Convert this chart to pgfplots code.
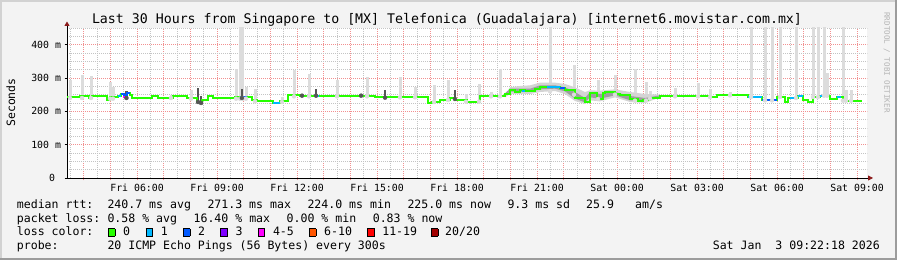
\documentclass[border=0pt]{standalone}
\usepackage{pgfplots}
\pgfplotsset{compat=1.18}
\usepackage{pgfplotstable}
\usetikzlibrary{arrows.meta}
\usepackage{fontspec}
\setmainfont{DejaVu Sans Mono}

\definecolor{bg}{HTML}{F3F3F3}
\definecolor{bordhi}{HTML}{D2D2D2}
\definecolor{bordlo}{HTML}{9C9C9C}
\definecolor{l0}{HTML}{26FF00}
\definecolor{l1}{HTML}{00B8FF}
\definecolor{l2}{HTML}{0059FF}
\definecolor{l3}{HTML}{7E00FF}
\definecolor{l4}{HTML}{FF00FF}
\definecolor{l6}{HTML}{FF5500}
\definecolor{l11}{HTML}{FF0000}
\definecolor{l20}{HTML}{A10000}
\definecolor{smokeL}{HTML}{DCDCDC}
\definecolor{smokeM}{HTML}{D4D4D4}
\definecolor{smokeK}{HTML}{9E9E9E}
\definecolor{smokeD}{HTML}{555555}
\definecolor{gridmaj}{HTML}{F29090}
\definecolor{gridmin}{HTML}{C4C4C4}
\definecolor{arrowred}{HTML}{8B1A1A}
\definecolor{wm}{HTML}{B4B4B4}

\newcommand\lf{\fontsize{11.6}{14}\selectfont}
\newcommand\swatch[1]{{\fboxsep=0pt\fboxrule=0.8bp\fcolorbox{black}{#1}{\rule{0pt}{6.6bp}\rule{5.8bp}{0pt}}}}

% median round-trip time (ms) vs hours since Fri 00:00
\pgfplotstableread{
h v
3.372 242
3.86 246
4.197 240
4.31 246
4.872 233
4.985 243
5.285 247
5.397 252
5.51 250
5.622 256
5.735 250
5.81 240
6.11 241
6.372 240
6.56 245
6.785 240
7.347 245
7.872 240
8.247 228
8.435 233
8.66 246
8.847 240
9.672 243
10.31 234
10.497 230
11.097 226
11.36 230
11.66 248
12.11 247
14.922 242
15.86 244
16.91 226
17.06 229
17.36 234
17.735 240
17.922 235
18.372 229
18.86 246
19.61 247
19.797 252
19.985 264
20.172 258
20.36 265
20.55 260
20.735 262
20.922 268
21.11 274
21.86 269
22.047 264
22.422 240
22.797 229
22.985 255
23.247 237
23.472 255
23.547 258
23.922 252
24.11 250
24.485 237
24.785 230
24.972 235
25.235 240
25.61 247
27.485 243
27.747 250
28.91 243
29.435 233
29.997 243
30.297 228
30.41 240
30.785 247
30.972 235
31.16 229
31.347 243
31.61 247
31.985 237
32.247 243
32.472 232
33.185 232
}\median

% light smoke spikes: h, base, extent
\pgfplotstableread{
h b e
3.485 240 54
3.935 240 70
4.272 240 66
4.985 238 51
5.097 238 35
7.272 240 10
8.022 238 26
9.71 238 90
9.86 238 222
9.97 238 222
10.085 238 35
10.422 230 38
11.435 228 15
11.885 245 79
12.447 245 68
13.497 245 48
14.622 245 59
15.86 242 62
16.422 242 31
17.135 228 51
17.66 234 60
18.335 229 24
18.822 229 54
19.272 245 13
19.61 245 83
21.485 260 200
22.385 250 90
23.285 237 57
23.922 250 60
24.672 232 96
25.085 232 56
25.235 238 22
26.172 245 25
27.035 245 40
27.485 243 25
28.235 248 10
29.022 243 220
29.547 233 230
29.81 233 230
30.11 243 220
30.71 240 220
31.347 243 220
31.535 243 220
31.76 247 215
31.872 247 68
32.472 232 230
32.585 232 31
32.772 232 31
}\smokelight

% dark smoke near the median: h, low, extent
\pgfplotstableread{
h b e
5.6 240 22
8.285 228 42
8.4 225 20
9.93 240 28
12.185 247 6
12.71 247 21
14.4 247 5
15.3 241 22
17.92 237 26
}\smokedark

\begin{document}
\begin{tikzpicture}
\fill[bg] (0,0) rectangle (897bp,260bp);
\fill[bordlo] (0,0) rectangle (897bp,2bp);
\fill[bordlo] (895bp,0) rectangle (897bp,260bp);
\fill[bordhi] (0,258bp) rectangle (895bp,260bp);
\fill[bordhi] (0,2bp) rectangle (2bp,258bp);

\begin{axis}[
  scale only axis, width=800bp, height=150bp,
  at={(67bp,82bp)}, anchor=south west,
  xmin=3.372, xmax=33.372, ymin=0, ymax=450,
  axis background/.style={fill=white},
  axis x line=bottom, axis y line=left,
  axis line style={black, line width=0.8bp},
  every outer x axis line/.append style={-{Triangle[length=5bp,width=5bp,color=arrowred,fill=arrowred]}, shorten >=-6bp},
  every outer y axis line/.append style={-{Triangle[length=4.5bp,width=5bp,color=arrowred,fill=arrowred]}, shorten >=-6.5bp},
  xtick={4,5,...,33},
  xticklabels={,,Fri 06:00,,,Fri 09:00,,,Fri 12:00,,,Fri 15:00,,,Fri 18:00,,,Fri 21:00,,,Sat 00:00,,,Sat 03:00,,,Sat 06:00,,,Sat 09:00},
  minor xtick={3.5,4.5,...,32.5},
  ytick={0,100,200,300,400},
  yticklabels={0~~,100 m,200 m,300 m,400 m},
  minor ytick={25,50,75,125,150,175,225,250,275,325,350,375,425,450},
  grid=both,
  major grid style={gridmaj, dash pattern=on 1bp off 1bp, line width=0.8bp},
  minor grid style={gridmin, dash pattern=on 1bp off 1bp, line width=0.8bp},
  tick align=outside, major tick length=2.5bp, minor tick length=0pt,
  xtick style={gridmaj, line width=0.8bp},
  ytick style={black, line width=0.8bp},
  every tick label/.append style={font=\fontsize{9.9}{11}\selectfont},
  xticklabel style={anchor=base, yshift=-11bp},
  yticklabel style={anchor=base east, yshift=-3.6bp},
  clip=true,
]
% light smoke spikes
\addplot[smokeL, only marks, mark=none, forget plot,
  error bars/.cd, y dir=plus, y explicit, error mark=none,
  error bar style={line width=3bp, smokeL}]
  table[x=h, y=b, y error=e]{\smokelight};
% smoke band in the evening (outer and inner envelope)
\addplot[fill=smokeM, draw=none, forget plot] coordinates {
(19.797,250) (19.985,272) (20.36,276) (20.735,278) (21.11,286) (21.672,286) (22.047,282) (22.422,272) (22.797,258) (22.985,263) (23.36,262) (23.922,266) (24.485,258) (25.047,252) (25.61,250)
(25.61,242) (25.047,225) (24.485,228) (23.922,242) (23.36,230) (22.985,233) (22.797,222) (22.422,231) (22.047,252) (21.672,261) (21.11,258) (20.735,252) (20.36,252) (19.985,252) (19.797,242)} -- cycle;
\addplot[fill=smokeK, draw=none, forget plot] coordinates {
(19.797,254) (19.985,268) (20.735,268) (21.11,278) (21.672,278) (22.047,272) (22.422,258) (22.797,240) (22.985,258) (23.36,252) (23.922,258) (24.485,246) (25.047,240) (25.61,248)
(25.61,245) (25.047,231) (24.485,233) (23.922,248) (23.36,238) (22.985,242) (22.797,227) (22.422,238) (22.047,260) (21.672,268) (21.11,266) (20.735,258) (19.985,259) (19.797,247)} -- cycle;
% dark smoke
\addplot[smokeD, only marks, mark=none, forget plot,
  error bars/.cd, y dir=plus, y explicit, error mark=none,
  error bar style={line width=2.5bp, smokeD}]
  table[x=h, y=b, y error=e]{\smokedark};
% median line, 0 loss
\addplot[const plot, l0, line width=2bp] table[x=h, y=v]{\median};
% segments with losses
\addplot[const plot, l1, line width=2bp] coordinates {(5.285,247) (5.397,247)};
\addplot[const plot, l2, line width=2bp] coordinates {(5.397,252) (5.51,250) (5.622,256) (5.735,256)};
\addplot[const plot, l4, line width=2bp] coordinates {(5.46,243) (5.53,243)};
\addplot[const plot, l2, line width=2bp] coordinates {(8.247,228) (8.33,228)};
\addplot[const plot, l1, line width=2bp] coordinates {(9.86,243) (9.95,243)};
\addplot[const plot, l2, line width=2bp] coordinates {(9.95,243) (10.12,243)};
\addplot[const plot, l1, line width=2bp] coordinates {(11.097,226) (11.36,226)};
\addplot[const plot, l1, line width=2bp] coordinates {(12.67,247) (12.82,247)};
\addplot[const plot, l1, line width=2bp] coordinates {(20.43,260) (20.55,260)};
\addplot[const plot, l1, line width=2bp] coordinates {(21.37,274) (21.86,274)};
\addplot[const plot, l2, line width=2bp] coordinates {(21.86,269) (22.047,269)};
\addplot[const plot, l1, line width=2bp] coordinates {(28.91,243) (29.435,243)};
\addplot[const plot, l2, line width=2bp] coordinates {(29.435,233) (29.997,233)};
\addplot[const plot, l1, line width=2bp] coordinates {(30.47,240) (30.75,240)};
\addplot[const plot, l1, line width=2bp] coordinates {(30.785,247) (30.972,247)};
\addplot[const plot, l1, line width=2bp] coordinates {(31.61,247) (31.91,247)};
\addplot[const plot, l1, line width=2bp] coordinates {(32.247,243) (32.40,243)};
\end{axis}

% title and labels
\node[anchor=base, inner sep=0, font=\fontsize{13.3}{15}\selectfont] at (447bp,236bp)
  {Last 30 Hours from Singapore to [MX] Telefonica (Guadalajara) [internet6.movistar.com.mx]};
\node[rotate=90, anchor=base, inner sep=0, font=\fontsize{11.5}{13}\selectfont] at (15bp,157.5bp) {Seconds};
\node[rotate=-90, anchor=center, inner sep=0, text=wm, font=\fontsize{7.6}{9}\selectfont] at (886.7bp,197.5bp) {RRDTOOL / TOBI OETIKER};

% legend block
\begin{scope}[every node/.style={anchor=base west, inner sep=0, font=\lf}]
\node at (16.7bp,51.7bp) {median rtt:};
\node at (107.3bp,51.7bp) {240.7 ms avg};
\node at (207.3bp,51.7bp) {271.3 ms max};
\node at (307.3bp,51.7bp) {224.0 ms min};
\node at (407.3bp,51.7bp) {225.0 ms now};
\node at (507.3bp,51.7bp) {9.3 ms sd};
\node at (586bp,51.7bp) {25.9};
\node at (635bp,51.7bp) {am/s};

\node at (16.7bp,38bp) {packet loss:};
\node at (107.3bp,38bp) {0.58 \% avg};
\node at (193.4bp,38bp) {16.40 \% max};
\node at (286.5bp,38bp) {0.00 \% min};
\node at (372.6bp,38bp) {0.83 \% now};

\node at (16.7bp,24.2bp) {loss color:};
\node at (107.8bp,24.2bp) {\swatch{l0}};   \node at (123bp,24.2bp) {0};
\node at (145.4bp,24.2bp) {\swatch{l1}};   \node at (160.6bp,24.2bp) {1};
\node at (182.8bp,24.2bp) {\swatch{l2}};   \node at (198bp,24.2bp) {2};
\node at (220.2bp,24.2bp) {\swatch{l3}};   \node at (235.4bp,24.2bp) {3};
\node at (257.6bp,24.2bp) {\swatch{l4}};   \node at (272.8bp,24.2bp) {4-5};
\node at (308.8bp,24.2bp) {\swatch{l6}};   \node at (324bp,24.2bp) {6-10};
\node at (366.9bp,24.2bp) {\swatch{l11}};  \node at (382.1bp,24.2bp) {11-19};
\node at (430.7bp,24.2bp) {\swatch{l20}};  \node at (445bp,24.2bp) {20/20};

\node at (16.7bp,10.4bp) {probe:};
\node at (107.3bp,10.4bp) {20 ICMP Echo Pings (56 Bytes) every 300s};
\node[anchor=base east] at (880bp,10.4bp) {Sat Jan~~3 09:22:18 2026};
\end{scope}
\end{tikzpicture}
\end{document}
